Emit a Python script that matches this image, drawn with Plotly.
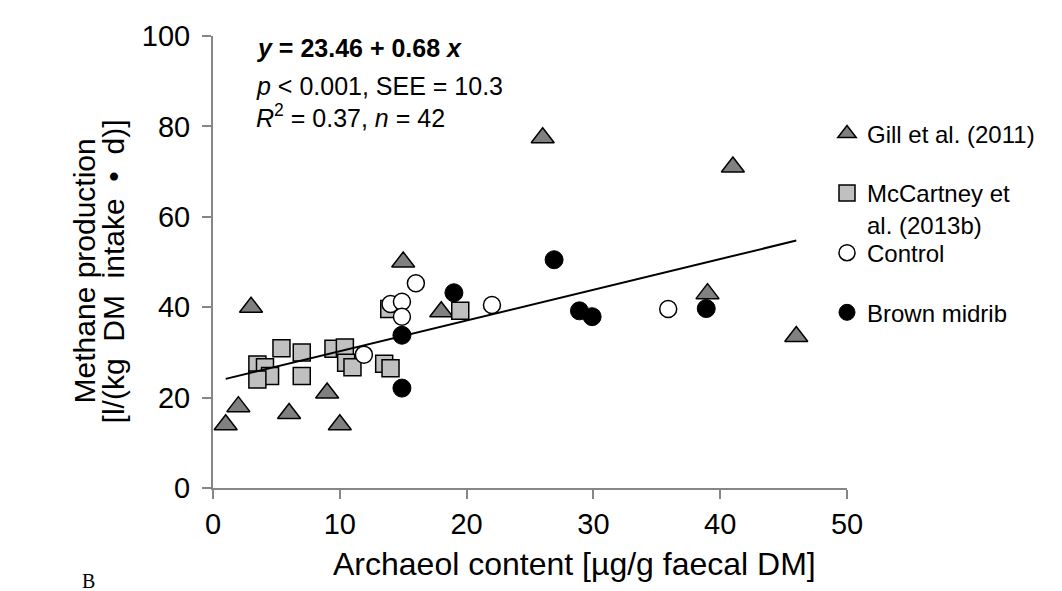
import plotly.graph_objects as go

# ---- data ----
gill_x = [1, 2, 3, 6, 9, 10, 15, 18, 26, 39, 41, 46]
gill_y = [14, 18, 40, 16.5, 21, 14, 50, 39, 77.5, 43, 71, 33.5]

mcc_x = [3.5, 4.1, 4.5, 3.5, 5.4, 7.0, 7.0, 9.5, 10.4, 10.5, 11.0, 13.5, 14.0, 13.9, 19.5]
mcc_y = [27.3, 26.7, 24.8, 24.0, 30.9, 30.0, 24.8, 30.8, 31.1, 27.7, 26.7, 27.5, 26.5, 39.6, 39.2]

ctrl_x = [16.0, 14.0, 14.9, 14.9, 11.9, 22.0, 35.9]
ctrl_y = [45.3, 40.7, 41.2, 37.9, 29.5, 40.5, 39.6]

bmr_x = [19.0, 14.9, 14.9, 26.9, 28.9, 29.9, 38.9]
bmr_y = [43.2, 33.8, 22.1, 50.5, 39.2, 37.9, 39.7]

intercept = 23.46
slope = 0.68

x_ticks = [0, 10, 20, 30, 40, 50]
y_ticks = [0, 20, 40, 60, 80, 100]

FONT = "Liberation Sans, Arial, sans-serif"

all_x = gill_x + mcc_x + ctrl_x + bmr_x
line_x = [min(all_x), max(all_x)]
line_y = [intercept + slope * v for v in line_x]

fig = go.Figure()

fig.add_trace(go.Scatter(
    x=gill_x, y=gill_y, mode="markers", name="Gill et al. (2011)", legend="legend",
    marker=dict(symbol="triangle-up", size=20, color="#808080",
                line=dict(color="black", width=1.5))))
fig.add_trace(go.Scatter(
    x=mcc_x, y=mcc_y, mode="markers", name="McCartney et<br>al. (2013b)", legend="legend2",
    marker=dict(symbol="square", size=17, color="#c0c0c0",
                line=dict(color="black", width=1.5))))
fig.add_trace(go.Scatter(
    x=line_x, y=line_y, mode="lines", showlegend=False,
    line=dict(color="black", width=2)))
fig.add_trace(go.Scatter(
    x=ctrl_x, y=ctrl_y, mode="markers", name="Control", legend="legend3",
    marker=dict(symbol="circle", size=17, color="white",
                line=dict(color="black", width=1.5))))
fig.add_trace(go.Scatter(
    x=bmr_x, y=bmr_y, mode="markers", name="Brown midrib", legend="legend4",
    marker=dict(symbol="circle", size=18, color="black",
                line=dict(color="black", width=1))))

axis_common = dict(
    showgrid=False, zeroline=False, showline=True, linecolor="#868686",
    linewidth=2, ticks="outside", ticklen=9, tickwidth=2, tickcolor="#868686",
    tickfont=dict(family=FONT, size=29, color="black"))

fig.update_xaxes(range=[0, 50], tickvals=x_ticks, **axis_common)
fig.update_yaxes(range=[0, 100], tickvals=y_ticks, ticklabelstandoff=6, **axis_common)

L, R, T, B = 205, 223, 25, 111
W, H = 1062, 591
pw, ph = W - L - R, H - T - B

def px(xp):
    return (xp - L) / pw

def py(yp):
    return (H - B - yp) / ph

ANN = 25
annots = [
    dict(text="<b><i>y</i> = 23.46 + 0.68 <i>x</i></b>", x=px(246), y=py(37),
         xanchor="left", yanchor="middle", font=dict(size=ANN)),
    dict(text="<i>p</i> &lt; 0.001, SEE = 10.3", x=px(246), y=py(75),
         xanchor="left", yanchor="middle", font=dict(size=ANN)),
    dict(text="<i>R</i><sup>2</sup> = 0.37, <i>n</i> = 42", x=px(246), y=py(106),
         xanchor="left", yanchor="middle", font=dict(size=ANN)),
    dict(text="Archaeol content [µg/g faecal DM]", x=px(566), y=py(557),
         xanchor="center", yanchor="middle", font=dict(size=32)),
    dict(text="Methane production", x=px(76), y=py(262), textangle=-90,
         xanchor="center", yanchor="middle", font=dict(size=30)),
    dict(text="[l/(kg&#160;&#160;DM&#160;&#160;intake&#160;&#160;•&#160;&#160;d)]",
         x=px(105), y=py(262), textangle=-90,
         xanchor="center", yanchor="middle", font=dict(size=30)),
    dict(text="B", x=px(72), y=py(587), xanchor="left", yanchor="bottom",
         font=dict(size=20, family="Liberation Serif, Times New Roman, serif")),
]
for a in annots:
    a.update(xref="paper", yref="paper", showarrow=False)
    a["font"].setdefault("family", FONT)
    a["font"].setdefault("color", "black")

LEG = 24
lh = 1.3 * LEG

def leg(marker_y):
    return dict(x=px(819), y=py(marker_y - 6.5 - lh / 2), xanchor="left", yanchor="top",
                valign="top", bgcolor="rgba(0,0,0,0)", borderwidth=0,
                font=dict(family=FONT, size=LEG, color="black"), itemwidth=30)

fig.update_layout(
    width=W, height=H,
    margin=dict(l=L, r=R, t=T, b=B),
    paper_bgcolor="white", plot_bgcolor="white",
    annotations=annots,
    showlegend=True,
    legend=leg(123),
    legend2=leg(183),
    legend3=leg(243),
    legend4=leg(303),
)

fig.write_html("out.html")
